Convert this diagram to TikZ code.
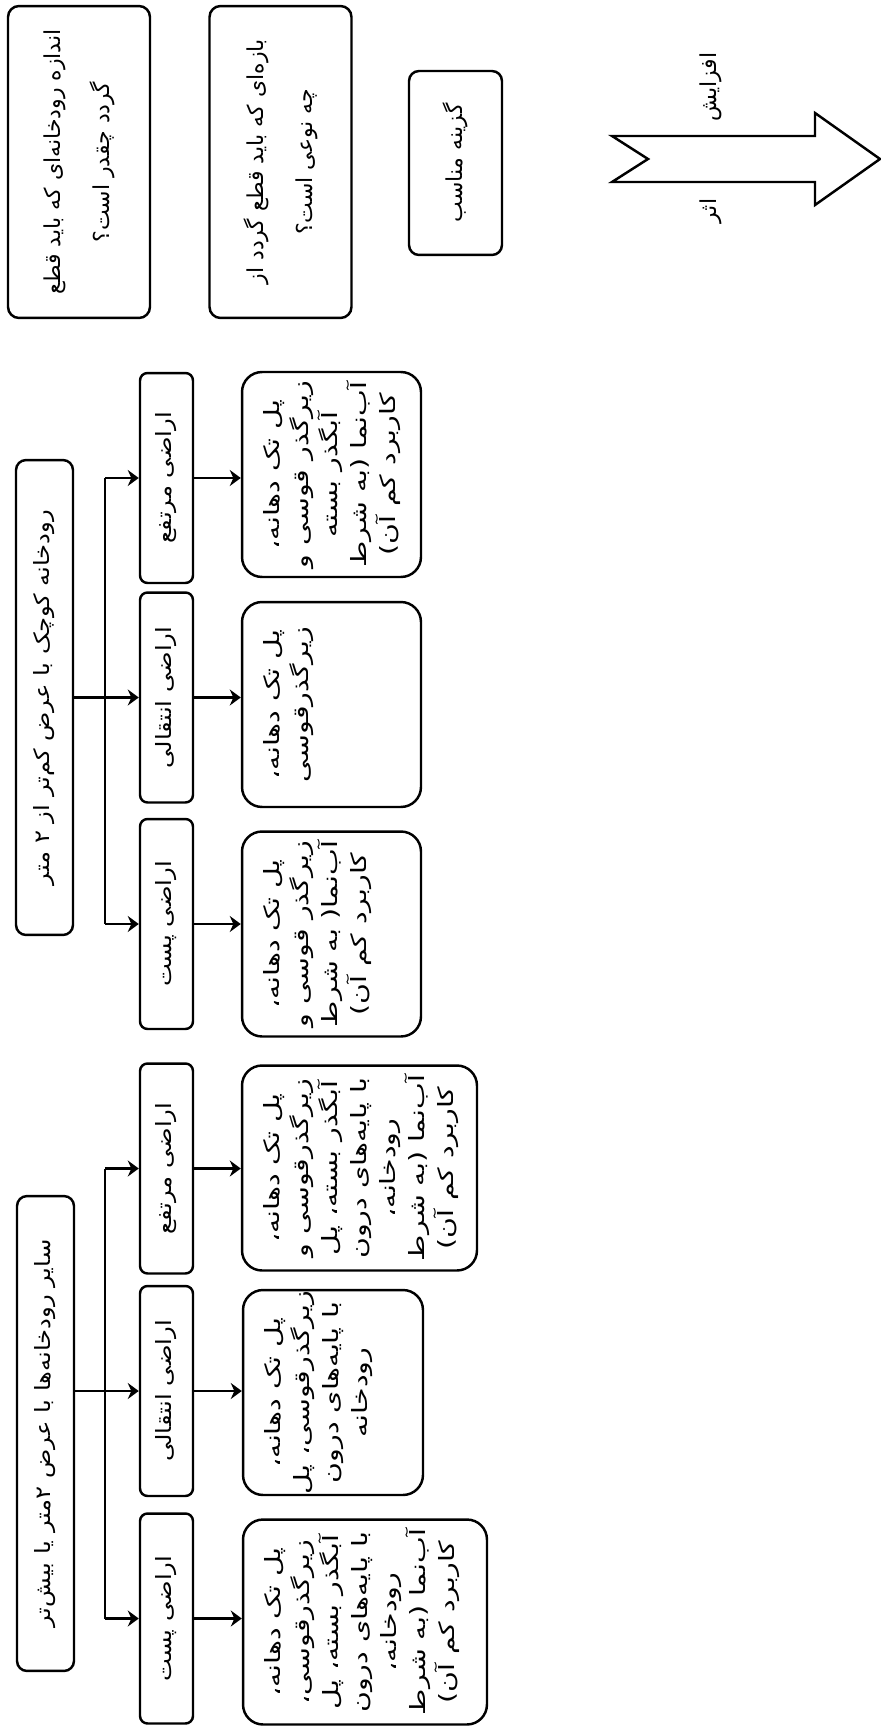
\documentclass[tikz,border=0pt]{standalone}
\usepackage{fontspec}
\newfontfamily\farsi[Script=Arabic,FakeStretch=1.35]{DejaVu Sans}
\newfontfamily\farsim[Script=Arabic,FakeStretch=1.15]{DejaVu Sans}
\newfontfamily\farsiq[Script=Arabic]{DejaVu Sans}
\TeXXeTstate=1
\usetikzlibrary{arrows.meta}
\newcommand{\fa}[1]{\beginR #1\endR}

\begin{document}
\begin{tikzpicture}[x=0.02cm,y=-0.02cm,
  box/.style={draw,line width=1.4pt,rotate=90,align=center,inner sep=0pt,
              font=\farsim\fontsize{12}{16.5}\selectfont},
  qbox/.style={box,rounded corners=0.22cm,minimum width=6.24cm,minimum height=2.84cm,
               font=\farsiq\fontsize{12.5}{28}\selectfont},
  mainbox/.style={box,rounded corners=0.2cm,minimum width=9.5cm,minimum height=1.14cm},
  lvl/.style={box,rounded corners=0.15cm,minimum width=4.2cm,minimum height=1.06cm},
  res/.style={box,rounded corners=0.4cm,minimum width=4.1cm},
  restxt/.style={rotate=90,anchor=north,align=center,inner sep=0.45cm,
                 font=\farsi\fontsize{12}{16.5}\selectfont},
  arr/.style={line width=1.4pt,-{Stealth[length=0.22cm,width=0.32cm]}}]
\useasboundingbox (0,0) rectangle (880,1726);

\node[qbox] (q1) at (79,162) {\fa{اندازه رودخانه‌ای که باید قطع}\\\fa{گردد چقدر است؟}};
\node[qbox] (q2) at (280.5,162) {\fa{بازه‌ای که باید قطع گردد از}\\\fa{چه نوعی است؟}};
\node[box,font=\farsiq\fontsize{12.5}{16}\selectfont,rounded corners=0.2cm,
      minimum width=3.68cm,minimum height=1.86cm] (q3) at (455.5,163) {\fa{گزینه مناسب}};

\draw[line width=1.4pt] (612,136) -- (815,136) -- (815,113) -- (880,159) -- (815,205)
  -- (815,182) -- (612,182) -- (648,159) -- cycle;
\node[restxt,font=\farsiq\fontsize{12.5}{16}\selectfont,anchor=center,inner sep=0pt] (up) at (711,87) {\fa{افزایش}};
\node[restxt,font=\farsiq\fontsize{12.5}{16}\selectfont,anchor=center,inner sep=0pt] (eff) at (711,211) {\fa{اثر}};

\node[mainbox] (m1) at (44.5,697.5) {\fa{رودخانه کوچک با عرض کم‌تر از ۲ متر}};
\node[lvl] (l11) at (166.5,478) {\fa{اراضی مرتفع}};
\node[lvl] (l12) at (166.5,697.5) {\fa{اراضی انتقالی}};
\node[lvl] (l13) at (166.5,924) {\fa{اراضی پست}};
\node[res,minimum height=3.58cm] (r11) at (331.5,474.5) {};
\node[res,minimum height=3.58cm] (r12) at (331.5,704.5) {};
\node[res,minimum height=3.58cm] (r13) at (331.5,934) {};
\node[restxt] (t11) at (r11.north) {\fa{پل تک دهانه،}\\\fa{زیرگذر قوسی و}\\\fa{آبگذر بسته}\\\fa{آب‌نما (به شرط}\\\fa{کاربرد کم آن)}};
\node[restxt] (t12) at (r12.north) {\fa{پل تک دهانه،}\\\fa{زیرگذرقوسی}};
\node[restxt] (t13) at (r13.north) {\fa{پل تک دهانه،}\\\fa{زیرگذر قوسی و}\\\fa{آب‌نما( به شرط}\\\fa{کاربرد کم آن)}};

\node[mainbox] (m2) at (45.5,1433.5) {\fa{سایر رودخانه‌ها با عرض ۲متر یا بیش‌تر}};
\node[lvl] (l21) at (166.5,1168.5) {\fa{اراضی مرتفع}};
\node[lvl] (l22) at (166.5,1391) {\fa{اراضی انتقالی}};
\node[lvl] (l23) at (166.5,1618.5) {\fa{اراضی پست}};
\node[res,minimum height=4.7cm] (r21) at (359.5,1168) {};
\node[res,minimum height=3.6cm] (r22) at (333,1392.5) {};
\node[res,minimum height=4.88cm] (r23) at (365,1622) {};
\node[restxt] (t21) at (r21.north) {\fa{پل تک دهانه،}\\\fa{زیرگذرقوسی و}\\\fa{آبگذر بسته، پل}\\\fa{با پایه‌های درون}\\\fa{رودخانه،}\\\fa{آب‌نما (به شرط}\\\fa{کاربرد کم آن)}};
\node[restxt] (t22) at (r22.north) {\fa{پل تک دهانه،}\\\fa{زیرگذرقوسی، پل}\\\fa{با پایه‌های درون}\\\fa{رودخانه}};
\node[restxt] (t23) at (r23.north) {\fa{پل تک دهانه،}\\\fa{زیرگذرقوسی،}\\\fa{آبگذر بسته، پل}\\\fa{با پایه‌های درون}\\\fa{رودخانه،}\\\fa{آب‌نما (به شرط}\\\fa{کاربرد کم آن)}};

\coordinate (bus) at (105,0);
\draw[arr] (m1.south) -- (l12.north);
\draw[line width=1.4pt] (bus |- l11.north) -- (bus |- l13.north);
\draw[arr] (bus |- l11.north) -- (l11.north);
\draw[arr] (bus |- l13.north) -- (l13.north);
\draw[arr] (m2.south |- l22.north) -- (l22.north);
\draw[line width=1.4pt] (bus |- l21.north) -- (bus |- l23.north);
\draw[arr] (bus |- l21.north) -- (l21.north);
\draw[arr] (bus |- l23.north) -- (l23.north);
\foreach \g in {11,12,13,21,22,23}
  \draw[arr] (l\g.south) -- (l\g.south -| r\g.north);
\end{tikzpicture}
\end{document}
